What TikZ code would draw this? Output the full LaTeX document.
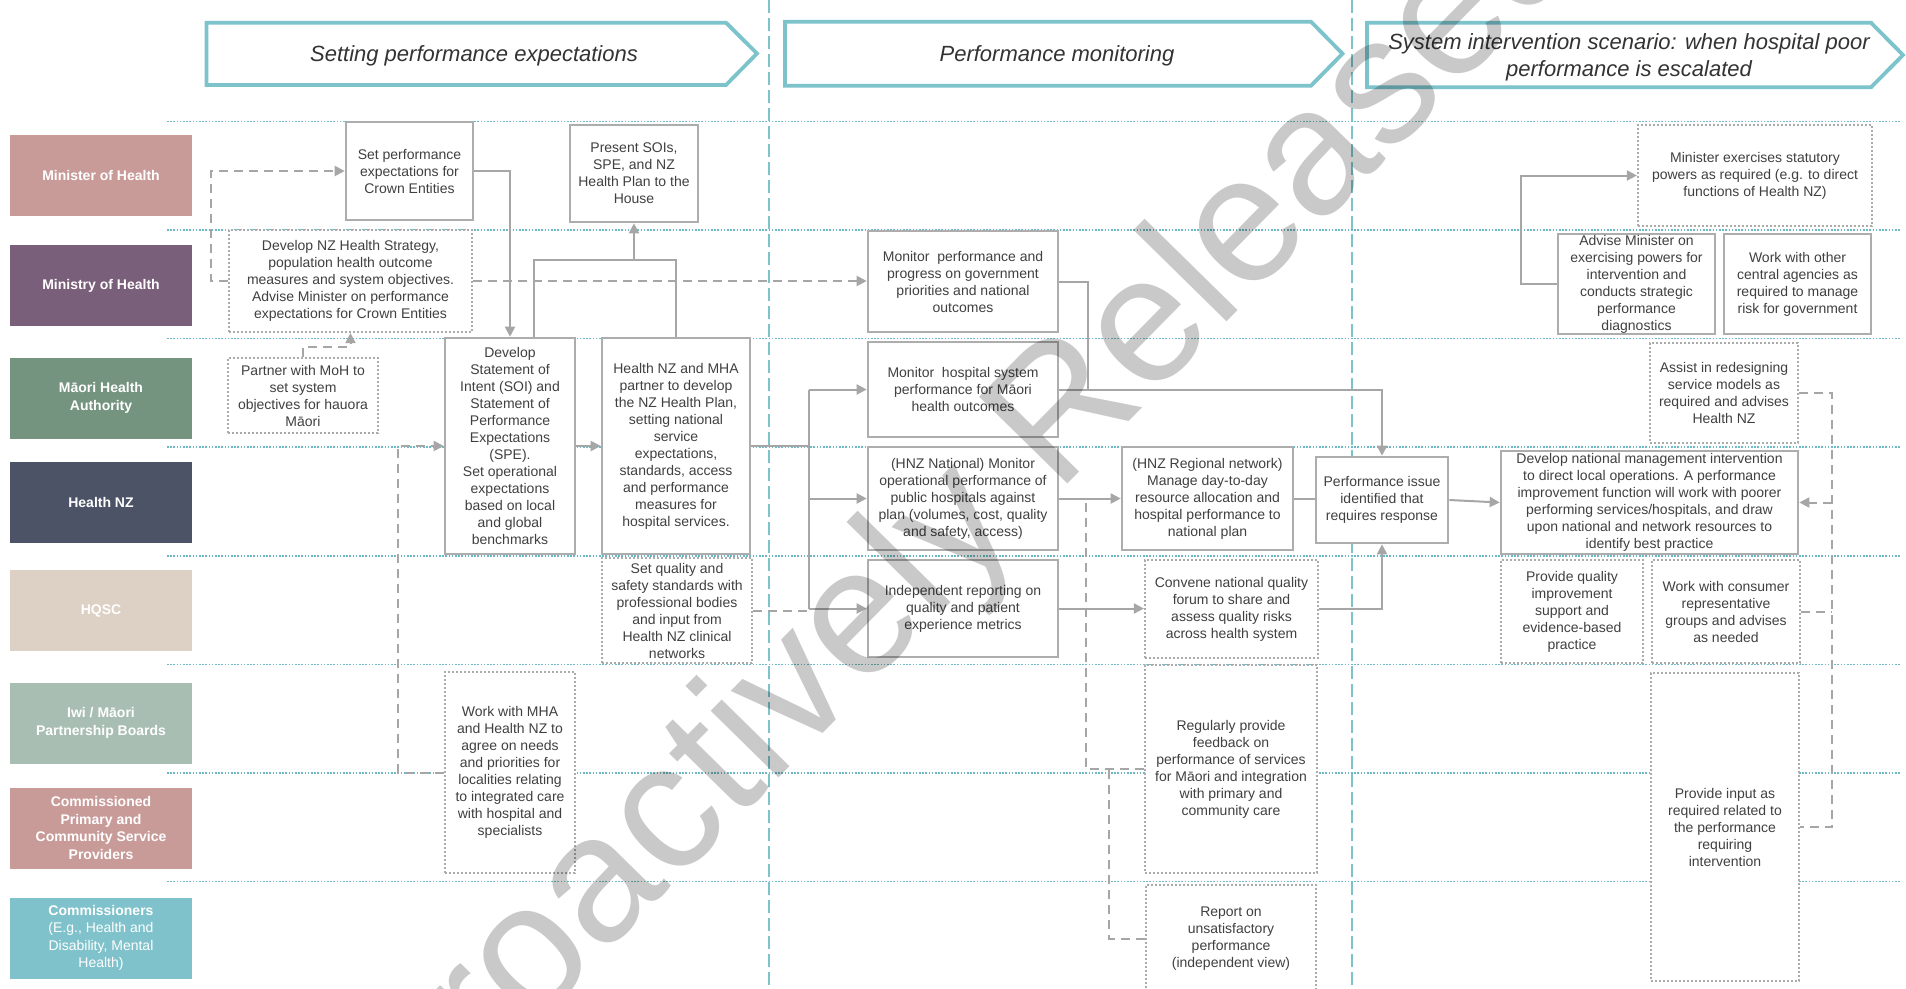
\documentclass[tikz,border=0pt]{standalone}
\usepackage{fontspec}
\setmainfont{Liberation Sans}
\usetikzlibrary{arrows.meta,calc}
\definecolor{tealA}{HTML}{7CC3CB}
\definecolor{tealB}{HTML}{6DB9C3}
\definecolor{bgrey}{HTML}{ADADAD}
\definecolor{dgrey}{HTML}{ABABAB}
\definecolor{cgrey}{HTML}{A6A6A6}
\definecolor{txt}{HTML}{404040}
\definecolor{htxt}{HTML}{333333}
\definecolor{cMin}{HTML}{C89B99}
\definecolor{cMoH}{HTML}{7A5F7A}
\definecolor{cMHA}{HTML}{75947F}
\definecolor{cHNZ}{HTML}{4D5366}
\definecolor{cHQSC}{HTML}{DDD1C5}
\definecolor{cIwi}{HTML}{A9BEB3}
\definecolor{cComm}{HTML}{C89B99}
\definecolor{cComs}{HTML}{7FC2CB}
\newcommand\bxfont{\fontsize{14}{17}\selectfont}
\newcommand\labfont{\fontsize{14}{17.5}\selectfont\bfseries}
\newcommand\hdfont{\fontsize{22}{26.5}\selectfont\itshape}
\tikzset{
  sbox/.style={draw=bgrey, line width=2.6pt, fill=white, align=center, inner sep=0pt, text=txt, font=\bxfont},
  dbox/.style={sbox, draw=dgrey, line width=2.2pt, dash pattern=on 2.2pt off 1.8pt},
  lab/.style={fill=#1, text=white, align=center, font=\labfont, minimum width=182pt, minimum height=81pt, inner sep=0pt},
  conn/.style={draw=cgrey, line width=2pt},
  dconn/.style={conn, dash pattern=on 9pt off 6pt},
  arr/.style={-{Triangle[length=10pt,width=10pt]}},
  lane/.style={draw=tealB, line width=1.8pt, dash pattern=on 1.6pt off 1.6pt},
  sepline/.style={draw=tealA, line width=1.8pt, dash pattern=on 13pt off 5pt},
  hdr/.style={draw=tealA, line width=3.8pt, fill=white, line join=miter},
  htext/.style={text=htxt, font=\hdfont, align=center},
}
\begin{document}
\begin{tikzpicture}[x=1pt,y=-1pt]
\useasboundingbox (0,0) rectangle (1906,988);
\fill[white] (0,0) rectangle (1906,988);
% swimlane lines
\foreach \yy in {121.5,230,338.5,447,556,664.5,773,881.5}{
  \draw[lane] (167,\yy) -- (1901,\yy);
}
% phase separators
\draw[sepline] (769,0) -- (769,988);
\draw[sepline] (1352,0) -- (1352,988);
% headers
\draw[hdr] (206.5,22.7) -- (726,22.7) -- (757,53.5) -- (726,85) -- (206.5,85) -- cycle;
\draw[hdr] (785,21.7) -- (1311,21.7) -- (1342.5,53.7) -- (1311,85.7) -- (785,85.7) -- cycle;
\draw[hdr] (1367,22.7) -- (1871,22.7) -- (1903,55) -- (1871,87.3) -- (1367,87.3) -- cycle;
\node[htext] (h1) at (474,56) {Setting performance expectations};
\node[htext] (h2) at (1057,56) {Performance monitoring};
\node[htext] (h3) at (1629,57.5) {System intervention scenario: when hospital poor\\performance is escalated};
% lane labels
\node[lab=cMin] (l0) at (101,175.5) {Minister of Health};
\node[lab=cMoH] (l1) at (101,285.5) {Ministry of Health};
\node[lab=cMHA] (l2) at (101,398) {Māori Health\\Authority};
\node[lab=cHNZ] (l3) at (101,502) {Health NZ};
\node[lab=cHQSC] (l4) at (101,610.7) {HQSC};
\node[lab=cIwi] (l5) at (101,723) {Iwi / Māori\\Partnership Boards};
\node[lab=cComm] (l6) at (101,828) {Commissioned\\Primary and\\Community Service\\Providers};
\node[lab=cComs] (l7) at (101,938) {Commissioners\\{\mdseries (E.g., Health and}\\{\mdseries Disability, Mental}\\{\mdseries Health)}};
% boxes
\node[sbox, minimum width=127pt, minimum height=98pt] (b1) at (409.5,171) {Set performance\\expectations for\\Crown Entities};
\node[sbox, minimum width=128pt, minimum height=97pt] (b2) at (634,173.5) {Present SOIs,\\SPE, and NZ\\Health Plan to the\\House};
\node[dbox, minimum width=243pt, minimum height=102pt] (b3) at (350.5,281) {Develop NZ Health Strategy,\\population health outcome\\measures and system objectives.\\Advise Minister on performance\\expectations for Crown Entities};
\node[dbox, minimum width=150pt, minimum height=75pt] (b4) at (303,395.5) {Partner with MoH to\\set system\\objectives for hauora\\Māori};
\node[sbox, minimum width=130pt, minimum height=216pt] (b5) at (510,446) {Develop\\Statement of\\Intent (SOI) and\\Statement of\\Performance\\Expectations\\(SPE).\\Set operational\\expectations\\based on local\\and global\\benchmarks};
\node[sbox, minimum width=148pt, minimum height=216pt] (b6) at (676,446) {Health NZ and MHA\\partner to develop\\the NZ Health Plan,\\setting national\\service\\expectations,\\standards, access\\and performance\\measures for\\hospital services.};
\node[dbox, minimum width=150pt, minimum height=105pt] (b7) at (677,610.5) {Set quality and\\safety standards with\\professional bodies\\and input from\\Health NZ clinical\\networks};
\node[dbox, minimum width=130pt, minimum height=201pt] (b8) at (510,772.5) {Work with MHA\\and Health NZ to\\agree on needs\\and priorities for\\localities relating\\to integrated care\\with hospital and\\specialists};
\node[sbox, minimum width=190pt, minimum height=101pt] (b9) at (963,281.5) {Monitor\ \ performance and\\progress on government\\priorities and national\\outcomes};
\node[sbox, minimum width=190pt, minimum height=95pt] (b10) at (963,389.5) {Monitor\ \ hospital system\\performance for Māori\\health outcomes};
\node[sbox, minimum width=190pt, minimum height=103pt] (b11) at (963,498.5) {(HNZ National) Monitor\\operational performance of\\public hospitals against\\plan (volumes, cost, quality\\and safety, access)};
\node[sbox, minimum width=190pt, minimum height=97pt] (b12) at (963,608.5) {Independent reporting on\\quality and patient\\experience metrics};
\node[sbox, minimum width=171pt, minimum height=103pt] (b13) at (1207.5,498.5) {(HNZ Regional network)\\Manage day-to-day\\resource allocation and\\hospital performance to\\national plan};
\node[dbox, minimum width=173pt, minimum height=98pt] (b14) at (1231.5,609) {Convene national quality\\forum to share and\\assess quality risks\\across health system};
\node[sbox, minimum width=132pt, minimum height=86pt] (b15) at (1382,500) {Performance issue\\identified that\\requires response};
\node[dbox, minimum width=172pt, minimum height=208pt] (b16) at (1231,769) {Regularly provide\\feedback on\\performance of services\\for Māori and integration\\with primary and\\community care};
\node[dbox, minimum width=170pt, minimum height=107pt] (b17) at (1231,938.5) {Report on\\unsatisfactory\\performance\\(independent view)};
\node[dbox, minimum width=234pt, minimum height=101pt] (b18) at (1755,175.5) {Minister exercises statutory\\powers as required (e.g. to direct\\functions of Health NZ)};
\node[sbox, minimum width=157pt, minimum height=100pt] (b19) at (1636.5,284) {Advise Minister on\\exercising powers for\\intervention and\\conducts strategic\\performance\\diagnostics};
\node[sbox, minimum width=147pt, minimum height=100pt] (b20) at (1797.5,284) {Work with other\\central agencies as\\required to manage\\risk for government};
\node[dbox, minimum width=148pt, minimum height=100pt] (b21) at (1724,393) {Assist in redesigning\\service models as\\required and advises\\Health NZ};
\node[sbox, minimum width=297pt, minimum height=103pt] (b22) at (1649.5,502.5) {Develop national management intervention\\to direct local operations. A performance\\improvement function will work with poorer\\performing services/hospitals, and draw\\upon national and network resources to\\identify best practice};
\node[dbox, minimum width=142pt, minimum height=103pt] (b23) at (1572,611.5) {Provide quality\\improvement\\support and\\evidence-based\\practice};
\node[dbox, minimum width=148pt, minimum height=103pt] (b24) at (1726,611.5) {Work with consumer\\representative\\groups and advises\\as needed};
\node[dbox, minimum width=148pt, minimum height=308pt] (b25) at (1725,827) {Provide input as\\required related to\\the performance\\requiring\\intervention};
% helper coordinates
\coordinate (ax) at (211,0);
\coordinate (ex) at (398,0);
\coordinate (fy) at (0,260);
\coordinate (busH) at (809,0);
\coordinate (jx) at (1088,0);
\coordinate (px) at (1086,0);
\coordinate (qx) at (1109,0);
\coordinate (rx) at (1521,0);
\coordinate (sx) at (1832,0);
% connectors
\draw[dconn,arr] (b3.west) -- (ax |- b3.west) |- (b1.west);
\draw[conn,arr] (b1.east) -| (b5.north);
\draw[dconn,arr] (b4.north) -- ++(0,-10) -| (b3.south);
\draw[conn,arr] (b5.east) -- (b6.west);
\draw[dconn,arr] (b8.west) -- (ex |- b8.west) |- (b5.west);
\draw[conn] ($(b5.north)+(24,0)$) |- (fy -| b6.north) -- (b6.north);
\draw[conn,arr] (fy -| b2.south) -- (b2.south);
\draw[dconn,arr] (b3.east) -- (b3.east -| b9.west);
\draw[conn] (b6.east) -- (b6.east -| busH);
\draw[conn] (busH |- b10.west) -- (busH |- b12.west);
\draw[conn,arr] (busH |- b10.west) -- (b10.west);
\draw[conn,arr] (busH |- b11.west) -- (b11.west);
\draw[conn,arr] (busH |- b12.west) -- (b12.west);
\draw[dconn] (b7.east) -- (b7.east -| busH);
\draw[conn] (b9.east) -| (jx |- b10.east);
\draw[conn,arr] (b10.east) -| (b15.north);
\draw[conn,arr] (b11.east) -- (b13.west);
\draw[conn] (b13.east) -- (b13.east -| b15.west);
\draw[conn,arr] (b12.east) -- (b12.east -| b14.west);
\draw[conn,arr] (b14.east) -| (b15.south);
\draw[conn,arr] (b15.east) -- (b22.west);
\draw[dconn] (b16.west) -| (px |- b11.east);
\draw[dconn] (b17.west) -| (qx |- b16.west);
\draw[conn,arr] (b19.west) -- (rx |- b19.west) |- (b18.west);
\draw[dconn] (b21.east) -| (sx |- b25.east) -- (b25.east);
\draw[dconn] (b24.east) -- (b24.east -| sx);
\draw[dconn,arr] (sx |- b22.east) -- (b22.east);
% watermark
\node[rotate=45.5, text=black, text opacity=0.21, font=\fontsize{180}{180}\selectfont] (wm) at (965,522) {Proactively Released};
\end{tikzpicture}
\end{document}
